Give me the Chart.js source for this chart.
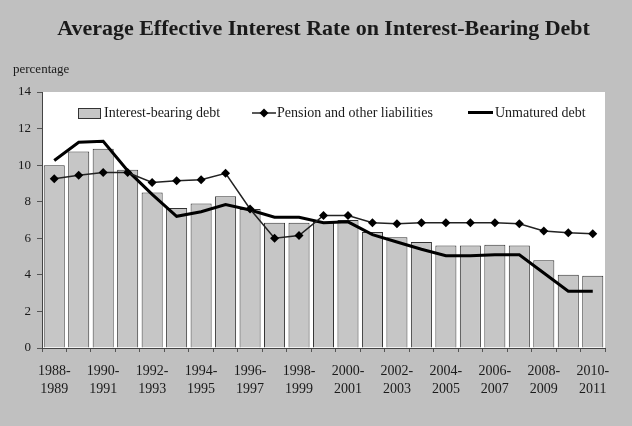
<!DOCTYPE html>
<html>
<head>
<meta charset="utf-8">
<script src="https://cdn.jsdelivr.net/npm/chart.js@4"></script>
<style>
  html, body { margin: 0; padding: 0; background: #c0c0c0; }
  canvas { display: block; }
</style>
</head>
<body>
<canvas id="rateChart" width="632" height="426"></canvas>
<script>
// fiscal years, one bar per year
const categories = [
  "1988-1989", "1989-1990", "1990-1991", "1991-1992", "1992-1993", "1993-1994",
  "1994-1995", "1995-1996", "1996-1997", "1997-1998", "1998-1999", "1999-2000",
  "2000-2001", "2001-2002", "2002-2003", "2003-2004", "2004-2005", "2005-2006",
  "2006-2007", "2007-2008", "2008-2009", "2009-2010", "2010-2011"
];
const interestBearingDebt = [10.0, 10.75, 10.9, 9.75, 8.5, 7.65, 7.9, 8.3, 7.6, 6.85, 6.85, 6.9,
  7.0, 6.35, 6.05, 5.8, 5.6, 5.6, 5.65, 5.6, 4.8, 4.0, 3.95];
const pensionLiabilities = [9.25, 9.45, 9.6, 9.6, 9.05, 9.15, 9.2, 9.55, 7.6, 6.0, 6.15, 7.25,
  7.25, 6.85, 6.8, 6.85, 6.85, 6.85, 6.85, 6.8, 6.4, 6.3, 6.25];
const unmaturedDebt = [10.25, 11.25, 11.3, 9.7, 8.4, 7.2, 7.45, 7.85, 7.55, 7.15, 7.15, 6.85,
  6.9, 6.2, 5.8, 5.4, 5.05, 5.05, 5.1, 5.1, 4.1, 3.1, 3.1];

const chartTitle = "Average Effective Interest Rate on Interest-Bearing Debt";
const serif = "'Liberation Serif', 'Times New Roman', serif";
const textColor = "#1a1a1a";

// grey page, white plot, title, y label and the legend inside the plot
const backdrop = {
  id: "backdrop",
  beforeDraw(chart) {
    const { ctx, chartArea: a } = chart;
    ctx.save();
    ctx.fillStyle = "#c0c0c0";
    ctx.fillRect(0, 0, chart.width, chart.height);
    ctx.fillStyle = "#ffffff";
    ctx.fillRect(a.left, a.top, a.right - a.left, a.bottom - a.top);
    ctx.restore();
  },
  afterDraw(chart) {
    const { ctx } = chart;
    const ds = chart.data.datasets;
    ctx.save();
    ctx.fillStyle = textColor;
    ctx.textAlign = "center";
    ctx.textBaseline = "alphabetic";
    ctx.font = "bold 22px " + serif;
    ctx.fillText(chartTitle, 323.5, 35);

    ctx.textAlign = "left";
    ctx.textBaseline = "middle";
    ctx.font = "13px " + serif;
    ctx.fillText("percentage", 13, 70);

    ctx.font = "14px " + serif;
    // bar swatch
    ctx.fillStyle = ds[0].backgroundColor;
    ctx.fillRect(78, 108, 22, 10);
    ctx.strokeStyle = ds[0].borderColor;
    ctx.lineWidth = 1;
    ctx.strokeRect(78.5, 108.5, 22, 10);
    ctx.fillStyle = textColor;
    ctx.fillText(ds[0].label, 104, 113);
    // pension line + diamond
    ctx.strokeStyle = ds[1].borderColor;
    ctx.lineWidth = ds[1].borderWidth;
    ctx.beginPath();
    ctx.moveTo(252, 113); ctx.lineTo(276, 113);
    ctx.stroke();
    ctx.fillStyle = "#000";
    ctx.beginPath();
    ctx.moveTo(264, 108.5); ctx.lineTo(268.5, 113); ctx.lineTo(264, 117.5); ctx.lineTo(259.5, 113);
    ctx.closePath();
    ctx.fill();
    ctx.fillStyle = textColor;
    ctx.fillText(ds[1].label, 277, 113);
    // unmatured thick line
    ctx.strokeStyle = ds[2].borderColor;
    ctx.lineWidth = ds[2].borderWidth;
    ctx.beginPath();
    ctx.moveTo(468, 112.5); ctx.lineTo(493, 112.5);
    ctx.stroke();
    ctx.fillText(ds[2].label, 495, 113);
    ctx.restore();
  }
};

new Chart(document.getElementById("rateChart").getContext("2d"), {
  data: {
    labels: categories,
    datasets: [
      {
        type: "bar",
        label: "Interest-bearing debt",
        data: interestBearingDebt,
        backgroundColor: "#c6c6c6",
        borderColor: "#333333",
        borderWidth: 1,
        barPercentage: 0.86,
        categoryPercentage: 1.0,
        order: 3,
      },
      {
        type: "line",
        label: "Pension and other liabilities",
        data: pensionLiabilities,
        borderColor: "#222222",
        borderWidth: 1.5,
        pointStyle: "rectRot",
        pointRadius: 4.5,
        pointBackgroundColor: "#000000",
        pointBorderColor: "#000000",
        pointBorderWidth: 0,
        tension: 0,
        order: 1,
      },
      {
        type: "line",
        label: "Unmatured debt",
        data: unmaturedDebt,
        borderColor: "#000000",
        borderWidth: 3,
        pointRadius: 0,
        tension: 0,
        order: 2,
      },
    ],
  },
  options: {
    responsive: false,
    animation: false,
    layout: { padding: { left: 12, right: 27, top: 92, bottom: 24 } },
    plugins: {
      legend: { display: false },
      tooltip: { enabled: false },
      title: { display: false },
    },
    scales: {
      x: {
        offset: true,
        grid: { offset: true, drawOnChartArea: false, tickLength: 4, color: "#555555" },
        border: { display: true, color: "#444444", width: 1 },
        ticks: {
          autoSkip: false,
          maxRotation: 0,
          color: textColor,
          font: { family: serif, size: 14, lineHeight: 1.24 },
          padding: 11,
          callback: (v, i) => (i % 2 === 0 ? [categories[i].slice(0, 5), categories[i].slice(5)] : ""),
        },
        afterFit: (s) => { s.height = 54; },
      },
      y: {
        min: 0,
        max: 14,
        ticks: { stepSize: 2, color: textColor, font: { family: serif, size: 13 }, padding: 6 },
        grid: { drawOnChartArea: false, tickLength: 5, color: "#555555" },
        border: { display: true, color: "#444444", width: 1 },
        afterFit: (s) => { s.width = 30; },
      },
    },
  },
  plugins: [backdrop],
});
</script>
</body>
</html>
